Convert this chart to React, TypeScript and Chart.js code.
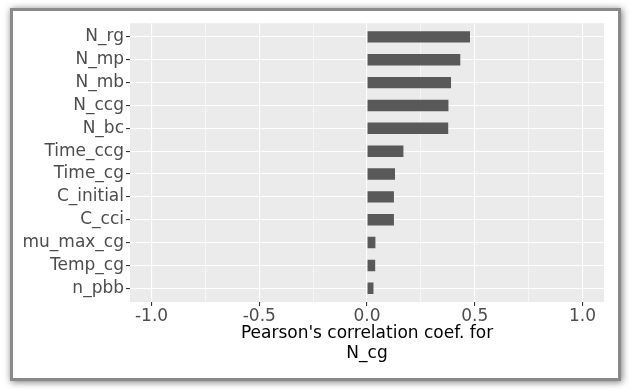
import React, { useEffect, useRef } from "react";
import { Chart, registerables } from "chart.js";

Chart.register(...registerables);

const categories = [
  "N_rg", "N_mp", "N_mb", "N_ccg", "N_bc", "Time_ccg",
  "Time_cg", "C_initial", "C_cci", "mu_max_cg", "Temp_cg", "n_pbb",
];
const correlations = [
  0.478, 0.433, 0.39, 0.378, 0.377, 0.169,
  0.13, 0.125, 0.125, 0.039, 0.038, 0.03,
];
const xTickValues = [-1, -0.75, -0.5, -0.25, 0, 0.25, 0.5, 0.75, 1];
const xTitle = ["Pearson's correlation coef. for", "N_cg"];

const FONT = "'DejaVu Sans', sans-serif";

const isMajor = (v: number) => Math.abs(v * 2 - Math.round(v * 2)) < 1e-9;

export default function App() {
  const ref = useRef<HTMLCanvasElement | null>(null);

  useEffect(() => {
    if (!ref.current) return;
    const panelBg = {
      id: "panelBg",
      beforeDraw(chart: any) {
        const { ctx, chartArea } = chart;
        ctx.save();
        ctx.fillStyle = "#EBEBEB";
        ctx.fillRect(chartArea.left, chartArea.top, chartArea.right - chartArea.left, chartArea.bottom - chartArea.top);
        ctx.restore();
      },
    };
    const chart = new Chart(ref.current, {
      type: "bar",
      data: {
        datasets: [
          {
            data: categories.map((c, i) => ({ x: correlations[i], y: i })),
            backgroundColor: "#595959",
            borderWidth: 0,
            barPercentage: 0.5,
            categoryPercentage: 1,
          },
        ],
      },
      options: {
        indexAxis: "y",
        responsive: false,
        animation: false,
        layout: { padding: { top: 11, right: 14, bottom: 0, left: 0 } },
        plugins: { legend: { display: false }, tooltip: { enabled: false } },
        scales: {
          x: {
            type: "linear",
            min: -1.1,
            max: 1.1,
            afterBuildTicks: (scale: any) => {
              scale.ticks = xTickValues.map((v) => ({ value: v }));
            },
            afterFit: (scale: any) => {
              scale.height = 76;
            },
            border: { display: false },
            grid: {
              color: "#FFFFFF",
              lineWidth: (ctx: any) => (ctx.tick && isMajor(ctx.tick.value) ? 1.1 : 0.55),
              drawTicks: true,
              tickLength: 4,
              tickWidth: 1.1,
              tickColor: (ctx: any) => (ctx.tick && isMajor(ctx.tick.value) ? "#333333" : "rgba(0,0,0,0)"),
            },
            ticks: {
              autoSkip: false,
              maxRotation: 0,
              padding: 0,
              color: "#4D4D4D",
              font: { family: FONT, size: 17 },
              callback: (v: any) => (isMajor(Number(v)) ? Number(v).toFixed(1) : ""),
            },
            title: {
              display: true,
              text: xTitle,
              color: "#000000",
              font: { family: FONT, size: 17, lineHeight: 1.18 },
              padding: { top: 0, bottom: 14 },
            },
          },
          y: {
            type: "linear",
            reverse: true,
            min: -0.6,
            max: categories.length - 1 + 0.6,
            offset: false,
            afterBuildTicks: (scale: any) => {
              scale.ticks = categories.map((_, i) => ({ value: i }));
            },
            afterFit: (scale: any) => {
              scale.width = 117;
            },
            border: { display: false },
            grid: {
              offset: false,
              color: "#FFFFFF",
              lineWidth: 1.1,
              drawTicks: true,
              tickLength: 4,
              tickWidth: 1.1,
              tickColor: "#333333",
            },
            ticks: {
              autoSkip: false,
              padding: 2,
              color: "#4D4D4D",
              font: { family: FONT, size: 17 },
              callback: (v: any) => categories[Number(v)] ?? "",
            },
          },
        },
      } as any,
      plugins: [panelBg],
    });
    return () => chart.destroy();
  }, []);

  return (
    <div
      style={{
        position: "absolute",
        left: 10,
        top: 8,
        width: 605,
        height: 367,
        border: "3px solid #8a8a8a",
        background: "#FFFFFF",
        boxShadow: "1px 1px 7px rgba(0,0,0,0.55)",
      }}
    >
      <canvas ref={ref} width={605} height={367} style={{ display: "block", width: 605, height: 367 }} />
    </div>
  );
}
